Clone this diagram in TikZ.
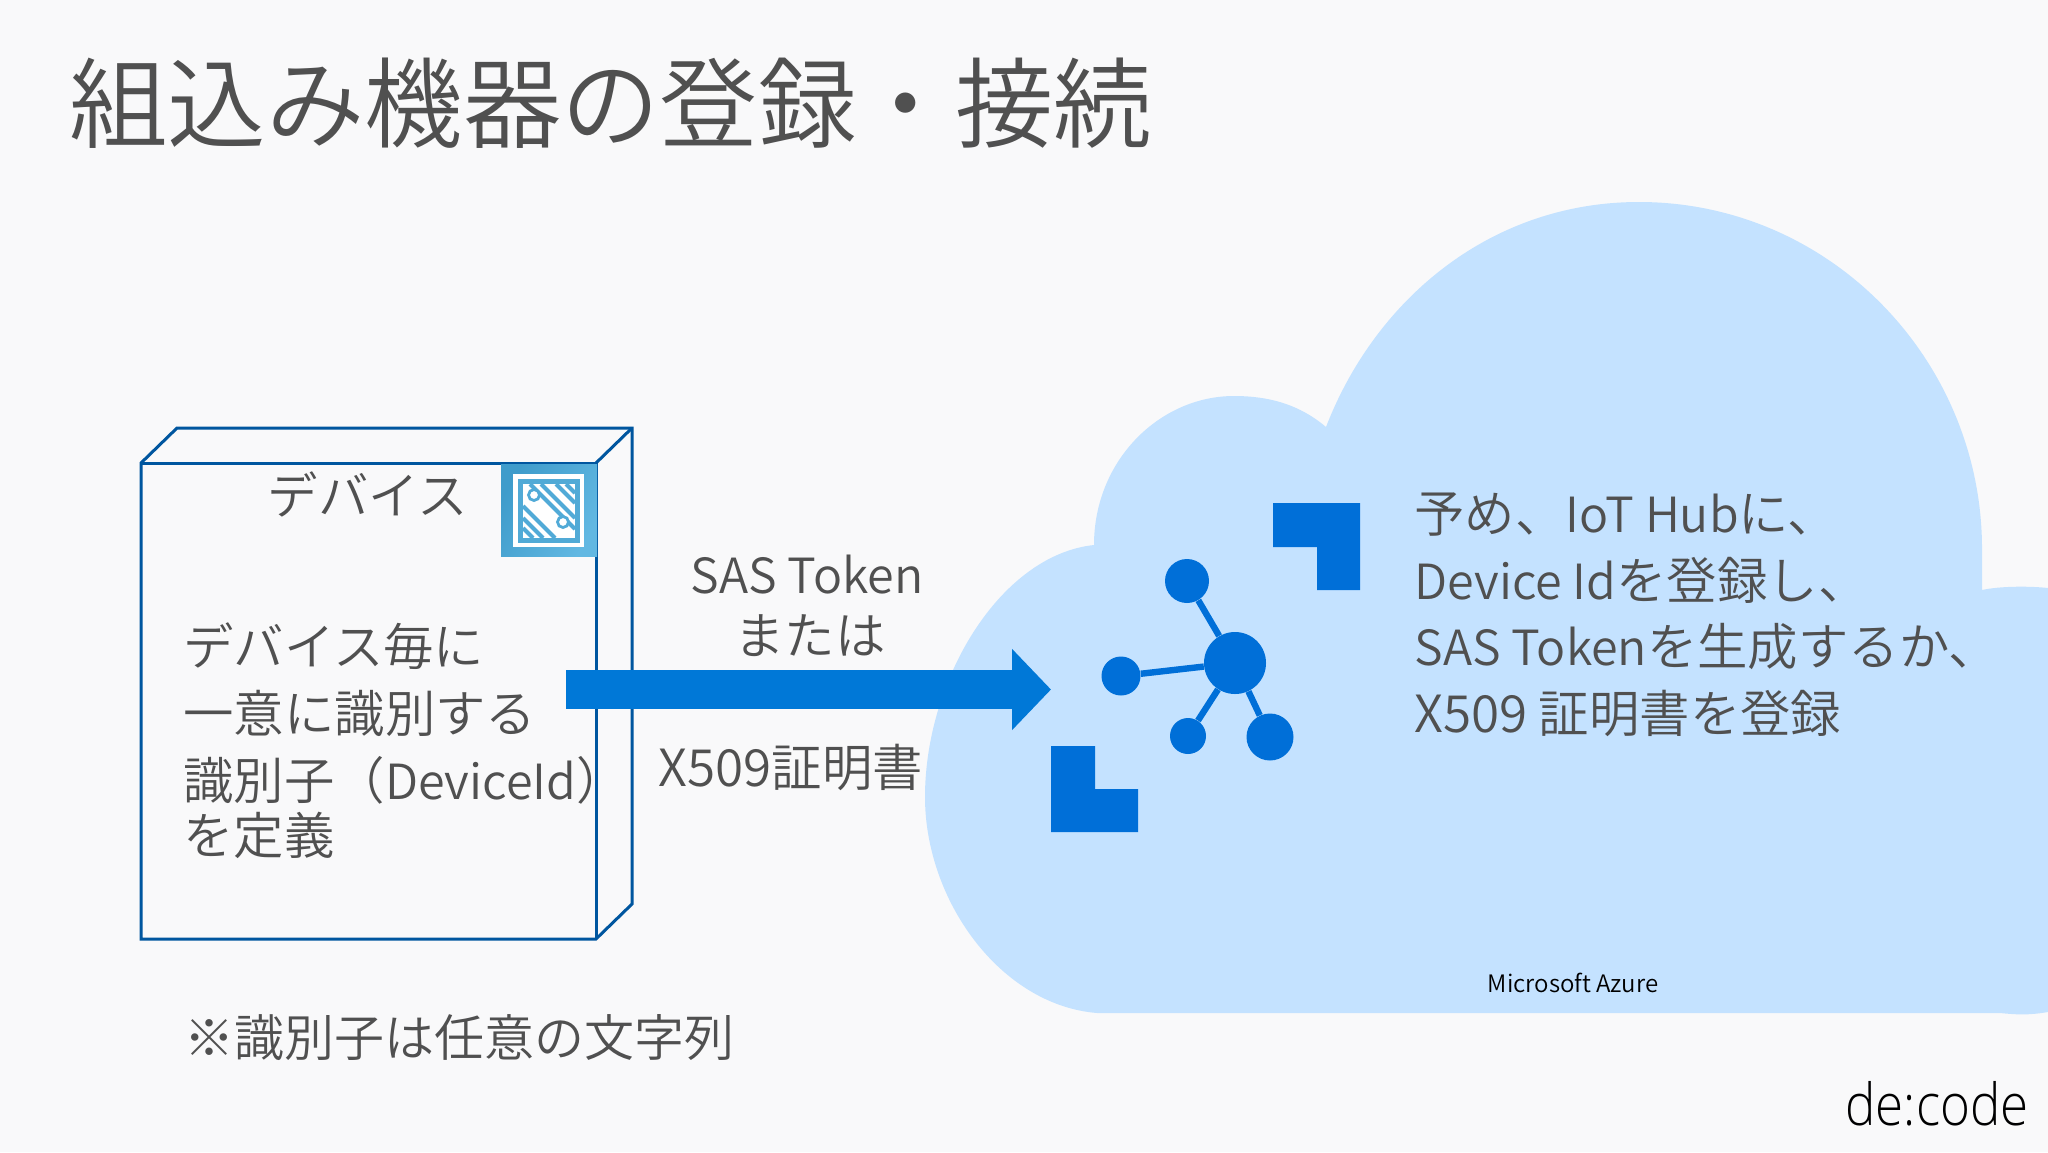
\documentclass[tikz,border=0pt]{standalone}
\usepackage{fontspec}
\usetikzlibrary{arrows.meta}
\setmainfont{Noto Sans CJK JP DemiLight}
\newfontfamily\logofont[FakeStretch=0.88]{Open Sans Light}
\newcommand{\lat}[1]{{\fontsize{24.2}{30}\selectfont #1}}
\newcommand{\latb}[1]{{\fontsize{25.6}{30}\selectfont #1}}
\definecolor{bgc}{HTML}{F9F9FA}
\definecolor{txt}{HTML}{505050}
\definecolor{edge}{HTML}{00569F}
\definecolor{cloudc}{HTML}{C4E2FF}
\definecolor{hubc}{HTML}{006FD8}
\definecolor{arrowc}{HTML}{0078D7}
\definecolor{ica}{HTML}{3F9CCB}
\definecolor{icb}{HTML}{62B8E2}
\colorlet{icm}{ica!50!icb}
\tikzset{
 body/.style={anchor=base west,inner sep=0,text=txt,font=\fontsize{25.2}{30}\selectfont},
 mid/.style={anchor=base,inner sep=0,text=txt,font=\fontsize{25.2}{30}\selectfont},
 boxline/.style={draw=edge,line width=1.5pt,line join=miter},
 hubdot/.style={circle,fill=hubc,inner sep=0},
 hublink/.style={draw=hubc,line width=3.2pt},
 trace/.style={draw=icm,line width=2pt},
}
\begin{document}
\begin{tikzpicture}[x=0.5pt,y=-0.5pt]
\useasboundingbox (0,0) rectangle (2048,1152);
\fill[bgc] (0,0) rectangle (2048,1152);
% cloud
\fill[cloudc] (1097,1013) .. controls (1000,1005) and (925,900) .. (925,797)
  .. controls (925,680) and (1000,555) .. (1094,545)
  .. controls (1094,460) and (1160,396) .. (1234,396)
  .. controls (1270,396) and (1300,405) .. (1326,427)
  .. controls (1375,300) and (1490,202) .. (1639,202)
  .. controls (1830,202) and (1982,360) .. (1982,549)
  -- (1982,590) .. controls (2000,586) and (2030,586) .. (2048,588)
  -- (2048,1012) .. controls (2030,1015) and (2020,1015) .. (2000,1013) -- cycle;
% device box
\draw[boxline,fill=bgc] (141,463) -- (177,428) -- (632,428) -- (632,904) -- (596,939) -- (141,939) -- cycle;
\draw[boxline] (141,463) -- (596,463) -- (596,939);
\draw[boxline] (596,463) -- (632,428);
% icon
\shade[left color=ica,right color=icb,shading angle=60] (501,464) rectangle (597,556);
\fill[white] (513,474) rectangle (584,547);
\fill[icm] (518,479) rectangle (580,543);
\fill[white] (523,484) rectangle (575,538);
\begin{scope}[line cap=butt]
\draw[trace] (530,484) -- (575,529);
\draw[trace] (541,484) -- (575,518);
\draw[trace] (523,506) -- (555,538);
\draw[trace] (523,518) -- (543,538);
\draw[trace] (556,484) -- (575,503);
\draw[trace] (523,528) -- (533,538);
\draw[trace] (566,484) -- (575,493);
\end{scope}
\filldraw[fill=white,draw=icm,line width=1.4pt] (534,495) circle (5.5);
\filldraw[fill=white,draw=icm,line width=1.4pt] (563,522) circle (5.5);
% labels device
\node[mid] (devtitle) at (368,514) {デバイス};
\node[body] (d1) at (183,665) {デバイス毎に};
\node[body] (d2) at (183,732) {一意に識別する};
\node[body] (d3) at (183,799) {識別子（\lat{DeviceId}）};
\node[body] (d4) at (183,854) {を定義};
\node[body,font=\fontsize{25}{30}\selectfont] (note) at (184,1056) {※識別子は任意の文字列};
% title
\node[anchor=base west,inner sep=0,text=txt,font=\fontsize{49.2}{58}\selectfont] (title) at (69,140) {組込み機器の登録・接続};
% arrow
\coordinate (arrowfrom) at (566,689.5);
\coordinate (arrowto) at (1051,689.5);
\draw[arrowc,line width=19.5pt,-{Triangle[length=19.5pt,width=39.5pt]}] (arrowfrom) -- (arrowto);
\node[mid] (sas) at (807,593) {\lat{SAS Token}};
\node[mid] (or) at (810,654) {または};
\node[mid] (x509) at (791,786) {\latb{X509}証明書};
% hub corners
\fill[hubc] (1273,503) -- (1360,503) -- (1360,590) -- (1317,590) -- (1317,547) -- (1273,547) -- cycle;
\fill[hubc] (1051,746) -- (1095,746) -- (1095,789) -- (1138,789) -- (1138,832) -- (1051,832) -- cycle;
% hub
\node[hubdot,minimum size=31pt] (hc) at (1235,663) {};
\node[hubdot,minimum size=22pt] (h1) at (1187,581) {};
\node[hubdot,minimum size=19.5pt] (h2) at (1121,676) {};
\node[hubdot,minimum size=18pt] (h3) at (1188,736) {};
\node[hubdot,minimum size=23.5pt] (h4) at (1270,737) {};
\draw[hublink] (hc) -- (h1);
\draw[hublink] (hc) -- (h2);
\draw[hublink] (hc) -- (h3);
\draw[hublink] (hc) -- (h4);
% cloud text
\node[body] (c1) at (1414,532) {予め、\lat{IoT Hub}に、};
\node[body] (c2) at (1414,599) {\lat{Device Id}を登録し、};
\node[body] (c3) at (1414,665) {\lat{SAS Token}を生成するか、};
\node[body] (c4) at (1414,732) {\latb{X509} 証明書を登録};
\node[anchor=base,inner sep=0,text=black,font=\fontsize{12}{15}\selectfont] (az) at (1573,992) {Microsoft Azure};
\node[anchor=base east,inner sep=0,text=black,font=\logofont\fontsize{29}{36}\selectfont] (logo) at (2029,1125) {de:code};
\end{tikzpicture}
\end{document}
